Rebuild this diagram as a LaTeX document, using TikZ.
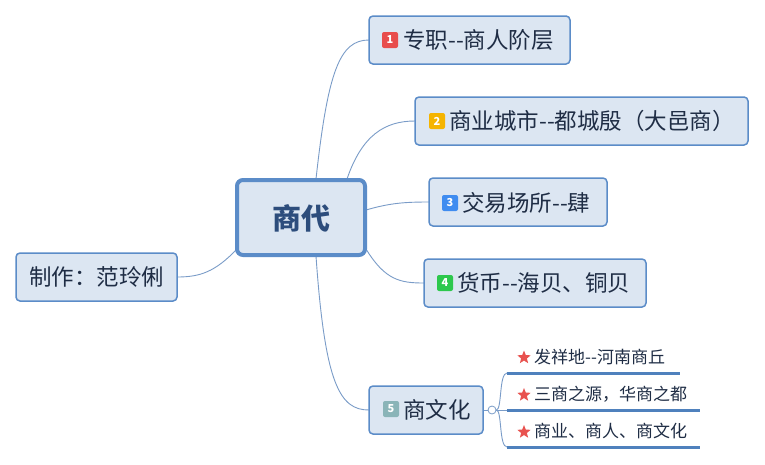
\documentclass[tikz,border=0pt]{standalone}
\usepackage{fontspec}
\setmainfont{Noto Sans CJK SC}
\usetikzlibrary{shapes.geometric}
\definecolor{boxfill}{HTML}{DCE6F2}
\definecolor{boxline}{HTML}{5B8CC8}
\definecolor{conn}{HTML}{7A9CC8}
\definecolor{txtc}{HTML}{1F2D45}
\definecolor{maintxt}{HTML}{2D4D7C}
\definecolor{bred}{HTML}{E84C4C}
\definecolor{borange}{HTML}{F5B400}
\definecolor{bblue}{HTML}{3F8CF0}
\definecolor{bgreen}{HTML}{2DC84D}
\definecolor{bgray}{HTML}{8AB4B8}
\definecolor{starc}{HTML}{E8524F}
\definecolor{subline}{HTML}{4F81BD}
\newcommand{\dd}{-{}-}
\tikzset{
  topic/.style={draw=boxline, line width=1.5pt, fill=boxfill, rounded corners=4pt, inner sep=0pt},
  centre/.style={draw=boxline, line width=4pt, fill=boxfill, rounded corners=6pt, inner sep=0pt},
  badge/.style={fill=#1, rounded corners=2pt, minimum size=16pt, inner sep=0pt, text=white, font=\fontsize{11}{11}\selectfont\bfseries},
  ttext/.style={anchor=west, inner sep=0pt, text=txtc, font=\fontsize{22.5}{22.5}\selectfont},
  stext/.style={anchor=west, inner sep=0pt, text=txtc, font=\fontsize{17}{17}\selectfont},
  staricon/.style={star, star points=5, star point ratio=2.3, fill=starc, minimum size=14pt, inner sep=0pt},
  link/.style={draw=conn, line width=0.9pt},
  sline/.style={draw=subline, line width=3pt}
}
\begin{document}
\begin{tikzpicture}[x=1pt, y=-1pt]
\useasboundingbox[fill=white] (0,0) rectangle (765,464);
% connectors
\coordinate (c1) at (316,179);
\coordinate (c2) at (347,179);
\coordinate (c3) at (366,210);
\coordinate (c4) at (366,249);
\coordinate (c5) at (316,256);
\coordinate (c6) at (237,249);
\coordinate (e1) at (369,40);
\coordinate (e2) at (415,121);
\coordinate (e3) at (429,202);
\coordinate (e4) at (424,283);
\coordinate (e5) at (369,410);
\coordinate (e6) at (177,277);
\draw[link] (c1) .. controls (328,70) and (340,40) .. (e1);
\draw[link] (c2) .. controls (362,135) and (385,121) .. (e2);
\draw[link] (c3) .. controls (390,203) and (405,202) .. (e3);
\draw[link] (c4) .. controls (385,280) and (400,283) .. (e4);
\draw[link] (c5) .. controls (325,385) and (340,410) .. (e5);
\draw[link] (c6) .. controls (215,272) and (200,277) .. (e6);
% centre
\node[centre, minimum width=128pt, minimum height=75pt] (main) at (301,217.5) {};
\node[inner sep=0pt, text=maintxt, font=\fontsize{29}{29}\selectfont\bfseries] (maint) at (301,218) {商代};
% topic 1
\node[topic, minimum width=201pt, minimum height=48pt] (n1) at (469.5,40) {};
\node[badge=bred] (k1) at (390,40) {1};
\node[ttext] (t1) at (403,40) {专职\dd 商人阶层};
% topic 2
\node[topic, minimum width=333pt, minimum height=48pt] (n2) at (581.5,121) {};
\node[badge=borange] (k2) at (437,121) {2};
\node[ttext] (t2) at (449,121) {商业城市\dd 都城殷（大邑商）};
% topic 3
\node[topic, minimum width=178pt, minimum height=48pt] (n3) at (518,202) {};
\node[badge=bblue] (k3) at (450,203) {3};
\node[ttext] (t3) at (462,203) {交易场所\dd 肆};
% topic 4
\node[topic, minimum width=222pt, minimum height=48pt] (n4) at (535,283) {};
\node[badge=bgreen] (k4) at (445,283) {4};
\node[ttext] (t4) at (457,283) {货币\dd 海贝、铜贝};
% topic 5
\node[topic, minimum width=114pt, minimum height=48pt] (n5) at (426,410) {};
\node[badge=bgray] (k5) at (391,409) {5};
\node[ttext] (t5) at (403,410) {商文化};
% author
\node[topic, minimum width=161pt, minimum height=48pt] (n6) at (96.5,277) {};
\node[ttext] (t6) at (29,277) {制作：范玲俐};
% sub branch
\node[circle, draw=conn, fill=white, line width=0.8pt, minimum size=8pt, inner sep=0pt] (knot) at (492,410) {};
\draw[link] (n5.east) -- (knot.west);
\coordinate (s1) at (507,373);
\coordinate (s2) at (507,410);
\coordinate (s3) at (507,447);
\draw[link] (knot.east) .. controls (502,410) and (499,373) .. (s1);
\draw[link] (knot.east) -- (s2);
\draw[link] (knot.east) .. controls (502,410) and (499,447) .. (s3);
\coordinate (f1) at (680,373);
\coordinate (f2) at (700,410);
\coordinate (f3) at (700,447);
\draw[sline] (s1) -- (f1);
\draw[sline] (s2) -- (f2);
\draw[sline] (s3) -- (f3);
\node[staricon] (st1) at (524,357.5) {};
\node[stext] (u1) at (534,357) {发祥地\dd 河南商丘};
\node[staricon] (st2) at (524,395) {};
\node[stext] (u2) at (534,394) {三商之源，华商之都};
\node[staricon] (st3) at (524,432) {};
\node[stext] (u3) at (534,431) {商业、商人、商文化};
\end{tikzpicture}
\end{document}
